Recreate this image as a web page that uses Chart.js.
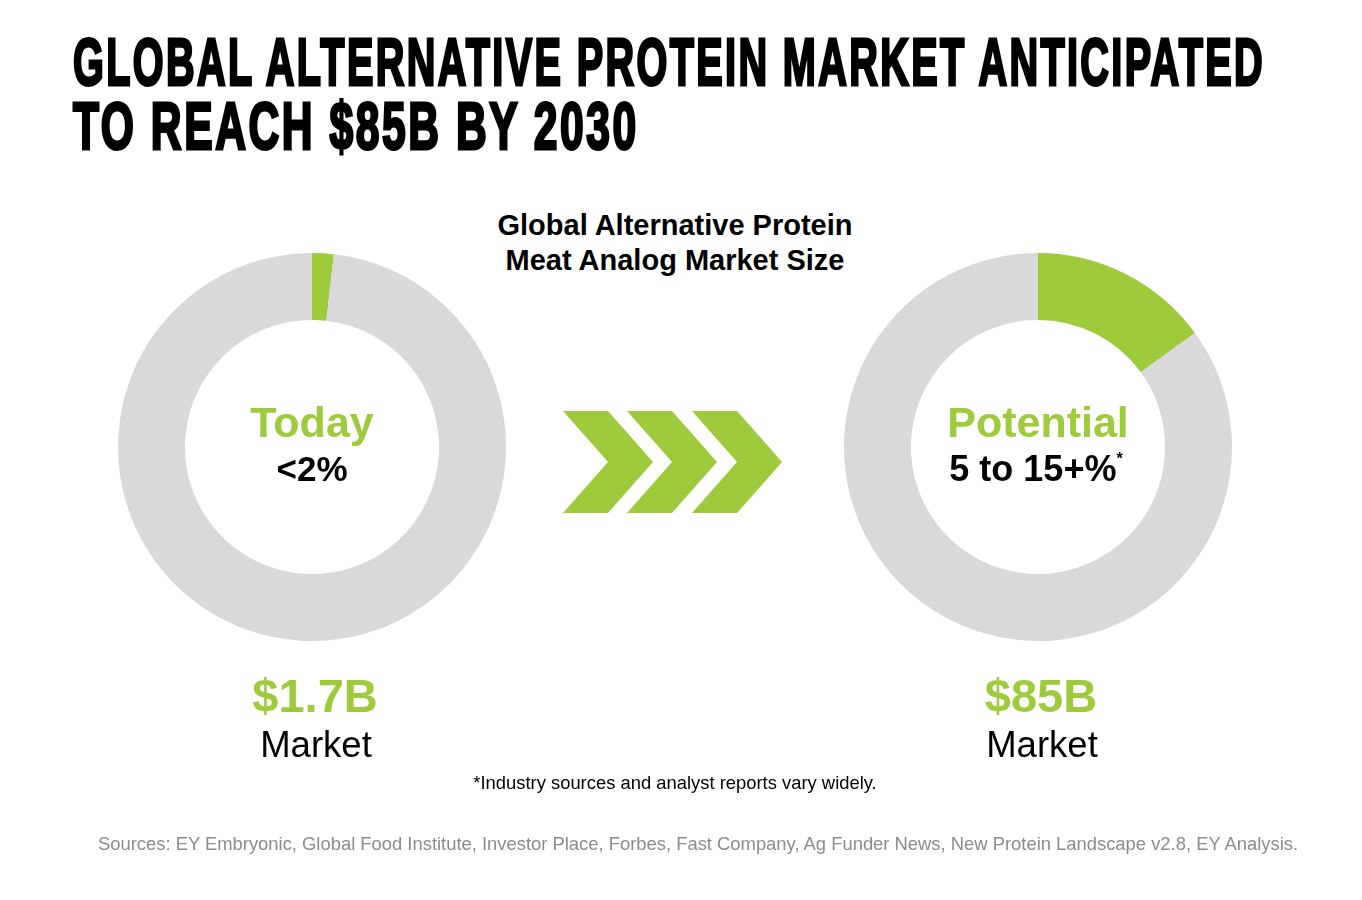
<!DOCTYPE html>
<html>
<head>
<meta charset="utf-8">
<script src="https://cdn.jsdelivr.net/npm/chart.js@4.4.1/dist/chart.umd.min.js"></script>
<style>
  html, body { margin: 0; padding: 0; background: #fff; }
  body { width: 1362px; height: 900px; position: relative; overflow: hidden;
         font-family: "Liberation Sans", Arial, sans-serif; }
  .title { position: absolute; left: 73px; font-family: "Liberation Sans Narrow", "Liberation Sans", sans-serif;
           font-weight: bold; font-size: 67px; line-height: 67px; white-space: nowrap; color: #000;
           letter-spacing: 4px; -webkit-text-stroke: 3px #000; transform-origin: 0 0; }
  .t { position: absolute; white-space: nowrap; transform: translateX(-50%); text-align: center; }
  .sub { font-weight: bold; font-size: 29px; line-height: 35px; color: #000; }
  .green { color: #9dcb3b; }
  canvas { position: absolute; }
</style>
</head>
<body>
<div class="title" id="title1" style="top:28px">GLOBAL ALTERNATIVE PROTEIN MARKET ANTICIPATED</div>
<div class="title" id="title2" style="top:92px">TO REACH $85B BY 2030</div>

<div class="t sub" style="left:675px; top:208px">Global Alternative Protein<br>Meat Analog Market Size</div>

<canvas id="todayChart" width="388" height="388" style="left:118px; top:253px"></canvas>
<canvas id="potentialChart" width="388" height="388" style="left:844px; top:253px"></canvas>

<svg width="1362" height="900" style="position:absolute;left:0;top:0" id="arrows"></svg>

<div class="t green" id="todayLabel" style="left:312px; top:398px; font-weight:bold; font-size:43px"></div>
<div class="t" id="todayPct" style="left:312px; top:449px; font-weight:bold; font-size:35px"></div>
<div class="t green" id="potLabel" style="left:1038px; top:398px; font-weight:bold; font-size:43px"></div>
<div class="t" id="potPct" style="left:1036px; top:448px; font-weight:bold; font-size:36px"></div>

<div class="t green" id="todayMkt" style="left:315px; top:668px; font-weight:bold; font-size:47px"></div>
<div class="t" style="left:316px; top:724px; font-size:36.5px">Market</div>
<div class="t green" id="potMkt" style="left:1041px; top:668px; font-weight:bold; font-size:47px"></div>
<div class="t" style="left:1042px; top:724px; font-size:36.5px">Market</div>

<div class="t" style="left:675px; top:772px; font-size:18.4px">*Industry sources and analyst reports vary widely.</div>
<div class="t" style="left:698px; top:833px; font-size:18.4px; color:#8c8c8c">Sources: EY Embryonic, Global Food Institute, Investor Place, Forbes, Fast Company, Ag Funder News, New Protein Landscape v2.8, EY Analysis.</div>

<script>
// share of the meat market held by alternative protein (%)
const sliceLabels = ["Alternative protein", "Rest of market"];
const todayShare = [1.8, 98.2];
const potentialShare = [15, 85];

const stageNames = ["Today", "Potential"];
const shareTexts = ["<2%", "5 to 15+%"];
const marketTexts = ["$1.7B", "$85B"];

const green = "#9dcb3b";
const grey = "#d9d9d9";

// squeeze the headline lines into their condensed look
function fitLine(id, w) {
  const el = document.getElementById(id);
  el.style.transform = "scaleX(" + (w / el.offsetWidth) + ")";
}
fitLine("title1", 1192);
fitLine("title2", 566);

function makeDoughnut(id, values) {
  return new Chart(document.getElementById(id), {
    type: "doughnut",
    data: {
      labels: sliceLabels,
      datasets: [{
        data: values,
        backgroundColor: [green, grey],
        borderWidth: 0,
        hoverOffset: 0
      }]
    },
    options: {
      responsive: false,
      animation: false,
      devicePixelRatio: 1,
      cutout: "65.5%",
      rotation: 0,
      layout: { padding: 0 },
      plugins: { legend: { display: false }, tooltip: { enabled: false } }
    }
  });
}

makeDoughnut("todayChart", todayShare);
makeDoughnut("potentialChart", potentialShare);

document.getElementById("todayLabel").textContent = stageNames[0];
document.getElementById("potLabel").textContent = stageNames[1];
document.getElementById("todayPct").textContent = shareTexts[0];
document.getElementById("potPct").innerHTML = shareTexts[1] + '<sup style="font-size:16px;position:relative;top:-4px">*</sup>';
document.getElementById("todayMkt").textContent = marketTexts[0];
document.getElementById("potMkt").textContent = marketTexts[1];

// three chevrons between the rings
const svg = document.getElementById("arrows");
[563, 627, 692].forEach(x => {
  const p = document.createElementNS("http://www.w3.org/2000/svg", "polygon");
  p.setAttribute("points", [
    [x, 411], [x + 45, 411], [x + 90, 462], [x + 45, 513], [x, 513], [x + 45, 462]
  ].map(q => q.join(",")).join(" "));
  p.setAttribute("fill", green);
  svg.appendChild(p);
});
</script>
</body>
</html>
